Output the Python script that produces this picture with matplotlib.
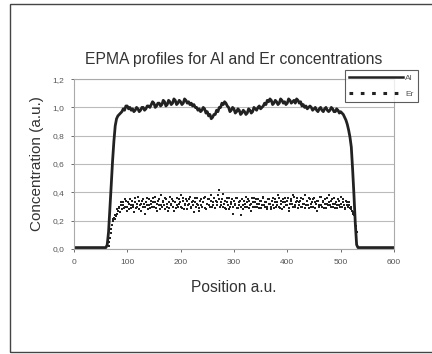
import numpy as np
import matplotlib
matplotlib.use("Agg")
import matplotlib.pyplot as plt
from matplotlib.lines import Line2D
from matplotlib.patches import Rectangle

plt.rcParams['font.family'] = ['Liberation Sans', 'DejaVu Sans']

# Al profile, one value every 2.5 a.u. from 0 to 600
al_step = 2.5
al_values = [0.01] * 25 + [
    0.03, 0.12, 0.28, 0.45, 0.62, 0.76, 0.87, 0.92, 0.94, 0.95,
    0.96, 0.97, 0.99, 0.98, 1.01, 1.01, 0.99, 1.00, 0.98, 0.99,
    0.97, 0.98, 1.00, 0.99, 0.97, 0.98, 1.00, 1.00, 0.98, 0.99,
    1.01, 1.01, 1.00, 1.02, 1.04, 1.03, 1.00, 1.01, 1.03, 1.03,
    1.01, 1.02, 1.05, 1.04, 1.01, 1.02, 1.05, 1.04, 1.02, 1.03,
    1.06, 1.05, 1.02, 1.03, 1.05, 1.04, 1.02, 1.03, 1.06, 1.05,
    1.03, 1.04, 1.02, 1.03, 1.01, 1.02, 1.00, 1.00, 0.98, 0.99,
    0.97, 0.98, 1.00, 0.99, 0.96, 0.97, 0.94, 0.95, 0.92, 0.93,
    0.95, 0.95, 0.98, 0.97, 1.00, 1.00, 1.03, 1.02, 1.04, 1.03,
    1.01, 1.00, 0.97, 0.98, 1.00, 0.99, 0.96, 0.97, 0.99, 0.98,
    0.95, 0.96, 0.98, 0.97, 0.95, 0.96, 0.99, 0.98, 0.96, 0.97,
    1.00, 0.99, 0.98, 1.00, 1.01, 0.99, 1.00, 1.01, 1.03, 1.02,
    1.05, 1.04, 1.06, 1.05, 1.02, 1.03, 1.05, 1.04, 1.02, 1.03,
    1.06, 1.05, 1.03, 1.04, 1.02, 1.03, 1.06, 1.05, 1.03, 1.04,
    1.05, 1.03, 1.06, 1.05, 1.03, 1.04, 1.01, 1.02, 1.00, 1.01,
    0.99, 1.00, 1.01, 1.00, 0.98, 0.99, 1.00, 0.98, 0.97, 0.99,
    1.00, 0.98, 0.97, 0.99, 1.00, 0.98, 0.97, 0.98, 1.00, 0.99,
    0.97, 0.97, 0.99, 0.98, 0.96, 0.97, 0.96, 0.95, 0.93, 0.91,
    0.88, 0.84, 0.79, 0.72, 0.56, 0.38, 0.18, 0.03, 0.01, 0.01,
    0.01,
] + [0.01] * 25

# Er profile, two interleaved sets of readings, one every 2.5 a.u. each
er_start, er_step = 65, 2.5
er_values = [
    0.02, 0.08, 0.14, 0.20, 0.22, 0.21, 0.25, 0.27, 0.29, 0.31,
    0.28, 0.33, 0.30, 0.34, 0.27, 0.32, 0.35, 0.29, 0.31, 0.26,
    0.33, 0.30, 0.37, 0.28, 0.32, 0.34, 0.30, 0.25, 0.33, 0.31,
    0.35, 0.29, 0.32, 0.36, 0.30, 0.33, 0.27, 0.34, 0.31, 0.38,
    0.30, 0.33, 0.28, 0.35, 0.32, 0.29, 0.37, 0.31, 0.34, 0.27,
    0.33, 0.36, 0.30, 0.32, 0.38, 0.29, 0.34, 0.31, 0.35, 0.28,
    0.32, 0.37, 0.30, 0.34, 0.26, 0.33, 0.36, 0.31, 0.29, 0.35,
    0.30, 0.33, 0.37, 0.28, 0.32, 0.35, 0.30, 0.34, 0.31, 0.36,
    0.29, 0.33, 0.38, 0.42, 0.31, 0.35, 0.30, 0.34, 0.28, 0.33,
    0.36, 0.30, 0.32, 0.25, 0.34, 0.31, 0.36, 0.29, 0.33, 0.30,
    0.35, 0.28, 0.32, 0.37, 0.30, 0.34, 0.31, 0.27, 0.33, 0.36,
    0.30, 0.32, 0.35, 0.29, 0.34, 0.31, 0.37, 0.30, 0.33, 0.28,
    0.35, 0.32, 0.30, 0.36, 0.29, 0.33, 0.31, 0.38, 0.30, 0.34,
    0.28, 0.33, 0.36, 0.31, 0.34, 0.27, 0.32, 0.35, 0.30, 0.37,
    0.31, 0.34, 0.29, 0.33, 0.36, 0.30, 0.32, 0.38, 0.31, 0.34,
    0.29, 0.35, 0.32, 0.30, 0.36, 0.33, 0.27, 0.34, 0.31, 0.37,
    0.30, 0.33, 0.35, 0.29, 0.32, 0.38, 0.31, 0.34, 0.30, 0.36,
    0.32, 0.29, 0.35, 0.31, 0.37, 0.30, 0.33, 0.28, 0.34, 0.31,
    0.33, 0.29, 0.30, 0.26, 0.24, 0.20, 0.12,
]
er_start_b = 66.25
er_values_b = [
    0.05, 0.11, 0.17, 0.21, 0.24, 0.23, 0.28, 0.30, 0.26, 0.33,
    0.31, 0.29, 0.35, 0.30, 0.33, 0.28, 0.31, 0.34, 0.30, 0.36,
    0.29, 0.32, 0.34, 0.31, 0.27, 0.35, 0.32, 0.30, 0.36, 0.28,
    0.31, 0.34, 0.30, 0.33, 0.37, 0.29, 0.32, 0.35, 0.28, 0.31,
    0.34, 0.31, 0.36, 0.30, 0.27, 0.33, 0.32, 0.35, 0.30, 0.33,
    0.29, 0.31, 0.35, 0.33, 0.30, 0.36, 0.28, 0.32, 0.34, 0.31,
    0.35, 0.29, 0.33, 0.31, 0.36, 0.30, 0.32, 0.27, 0.34, 0.31,
    0.33, 0.36, 0.29, 0.32, 0.35, 0.31, 0.38, 0.30, 0.33, 0.29,
    0.34, 0.31, 0.35, 0.30, 0.33, 0.39, 0.32, 0.29, 0.36, 0.31,
    0.28, 0.33, 0.35, 0.30, 0.32, 0.36, 0.29, 0.31, 0.34, 0.24,
    0.31, 0.34, 0.30, 0.33, 0.35, 0.29, 0.32, 0.36, 0.30, 0.33,
    0.35, 0.30, 0.32, 0.34, 0.29, 0.36, 0.31, 0.33, 0.30, 0.35,
    0.32, 0.28, 0.34, 0.31, 0.35, 0.30, 0.33, 0.36, 0.29, 0.32,
    0.35, 0.30, 0.33, 0.31, 0.36, 0.29, 0.34, 0.32, 0.38, 0.30,
    0.33, 0.36, 0.31, 0.34, 0.30, 0.35, 0.32, 0.29, 0.34, 0.31,
    0.36, 0.30, 0.33, 0.35, 0.29, 0.32, 0.34, 0.30, 0.37, 0.31,
    0.34, 0.29, 0.32, 0.36, 0.31, 0.33, 0.30, 0.35, 0.32, 0.29,
    0.33, 0.31, 0.34, 0.30, 0.32, 0.35, 0.31, 0.29, 0.33, 0.30,
    0.31, 0.28, 0.27, 0.25, 0.22, 0.16,
]

x_ticks = [0, 100, 200, 300, 400, 500, 600]
y_ticks = [0.0, 0.2, 0.4, 0.6, 0.8, 1.0, 1.2]
y_ticklabels = ['0,0', '0,2', '0,4', '0,6', '0,8', '1,0', '1,2']

al_x = np.arange(len(al_values)) * al_step
er_x = np.concatenate([er_start + np.arange(len(er_values)) * er_step,
                       er_start_b + np.arange(len(er_values_b)) * er_step])
er_y = er_values + er_values_b

fig = plt.figure(figsize=(4.32, 3.54), dpi=100)
ax = fig.add_axes([0.171, 0.2966, 0.741, 0.480])

# outer frame around the whole chart
fig.patches.append(Rectangle((0.023, 0.006), 1.2, 0.983, transform=fig.transFigure,
                             fill=False, edgecolor='#444444', linewidth=1.0))

ax.plot(er_x, er_y, linestyle='none', marker='s', markersize=1.8,
        color='#222222', markeredgewidth=0)
ax.plot(al_x, al_values, color='#222222', linewidth=2.0)

ax.set_xlim(0, 600)
ax.set_ylim(0, 1.2)
ax.set_xticks(x_ticks)
ax.set_yticks(y_ticks)
ax.set_yticklabels(y_ticklabels)
ax.tick_params(labelsize=6, colors='#555555', length=2, width=0.6, pad=5)
ax.grid(axis='y', color='#bbbbbb', linewidth=0.8)
ax.set_axisbelow(True)
for s in ax.spines.values():
    s.set_color('#aaaaaa')
    s.set_linewidth(0.8)

ax.set_title('EPMA profiles for Al and Er concentrations', fontsize=11.3, color='#333333', pad=11)
ax.set_xlabel('Position a.u.', fontsize=11.2, color='#333333', labelpad=10)
ax.set_ylabel('Concentration (a.u.)', fontsize=11, color='#333333', labelpad=6)

handles = [Line2D([], [], color='#222222', linewidth=1.8),
           Line2D([], [], color='#222222', linewidth=2.2, linestyle=(0, (1.2, 2.5)))]
leg = ax.legend(handles, ['Al', 'Er'], loc='upper left', bbox_to_anchor=(0.847, 1.053),
                fontsize=6, handlelength=6.5, handletextpad=0.2, labelspacing=1.0,
                borderpad=0.5, frameon=True, fancybox=False, borderaxespad=0)
leg.get_frame().set_edgecolor('#333333')
leg.get_frame().set_linewidth(0.8)
for t in leg.get_texts():
    t.set_color('#555555')

plt.savefig('out.png', dpi=100)
